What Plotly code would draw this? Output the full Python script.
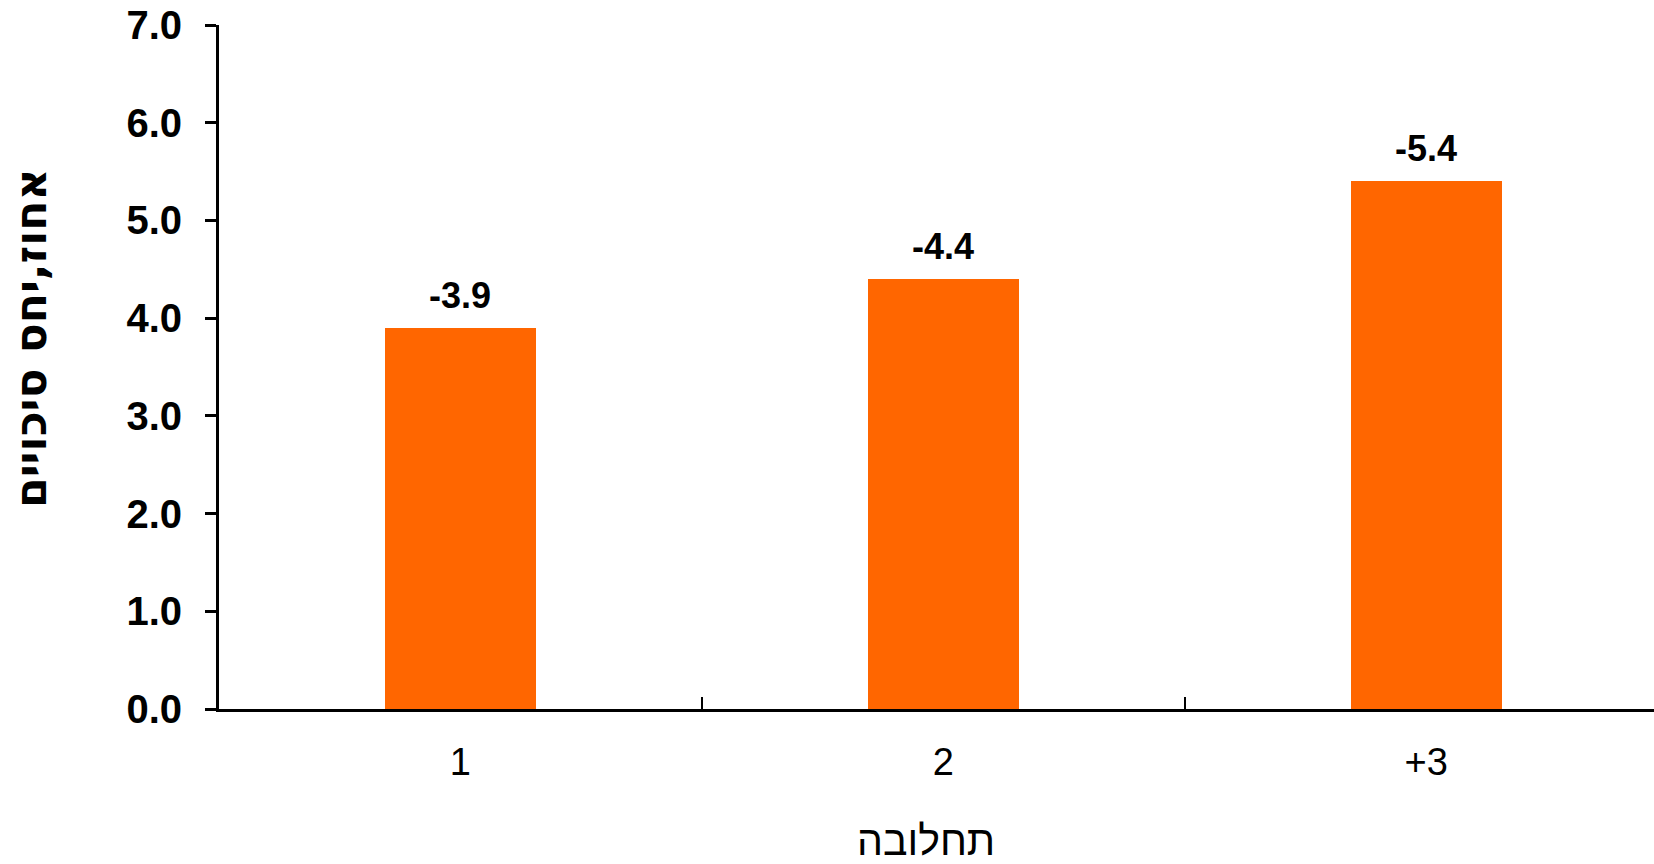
import plotly.graph_objects as go

categories = ["1", "2", "+3"]
values = [3.9, 4.4, 5.4]
value_labels = ["-3.9", "-4.4", "-5.4"]
y_ticks = [0, 1, 2, 3, 4, 5, 6, 7]
y_tick_labels = ["0.0", "1.0", "2.0", "3.0", "4.0", "5.0", "6.0", "7.0"]
x_title = "תחלובה"
y_title = "אחוז,יחס סיכויים"

W, H = 1654, 864
L, R, T = 219, 0, 25
B = H - 709
FONT = "Liberation Sans, Arial, DejaVu Sans, sans-serif"
HFONT = "DejaVu Sans, Liberation Sans, Arial, sans-serif"

fig = go.Figure()
fig.add_trace(go.Bar(
    x=categories, y=values, width=0.313,
    marker=dict(color="#FF6600", line=dict(width=0)),
    hoverinfo="skip",
))

for i, (v, t) in enumerate(zip(values, value_labels)):
    fig.add_annotation(x=i, y=v, text="<b>%s</b>" % t, showarrow=False,
                       xref="x", yref="y", yanchor="bottom", yshift=10,
                       font=dict(family=FONT, size=36, color="black"))

plot_w = W - L - R
plot_h = H - T - B
fig.add_annotation(text="<b>%s</b>" % y_title, textangle=-90, showarrow=False,
                   xref="paper", yref="paper",
                   x=(30 - L) / plot_w, y=1 - (338 - T) / plot_h,
                   xanchor="center", yanchor="middle",
                   font=dict(family=HFONT, size=44, color="black"))
fig.add_annotation(text=x_title, showarrow=False,
                   xref="paper", yref="paper",
                   x=(926 - L) / plot_w, y=-(841 - 709) / plot_h,
                   xanchor="center", yanchor="middle",
                   font=dict(family=FONT, size=41, color="black"))

fig.update_layout(
    width=W, height=H,
    margin=dict(l=L, r=R, t=T, b=B, pad=0),
    paper_bgcolor="white", plot_bgcolor="white",
    showlegend=False,
    bargap=0,
    xaxis=dict(
        type="category", range=[-0.5, 2.472],
        showline=True, linecolor="black", linewidth=3,
        ticks="inside", tickson="boundaries", ticklen=12, tickwidth=2, tickcolor="black",
        tickfont=dict(family=FONT, size=38, color="black"),
        ticklabelstandoff=17,
        showgrid=False, zeroline=False, fixedrange=True,
    ),
    yaxis=dict(
        range=[0, 7], tickvals=y_ticks, ticktext=["<b>%s</b>" % s for s in y_tick_labels],
        showline=True, linecolor="black", linewidth=3,
        ticks="outside", ticklen=11, tickwidth=3, tickcolor="black",
        tickfont=dict(family=FONT, size=40, color="black"),
        ticklabelstandoff=15,
        showgrid=False, zeroline=False, fixedrange=True,
    ),
)

fig.write_html("out.html", config={"displayModeBar": False},
               post_script="document.body.style.margin='0px';")
